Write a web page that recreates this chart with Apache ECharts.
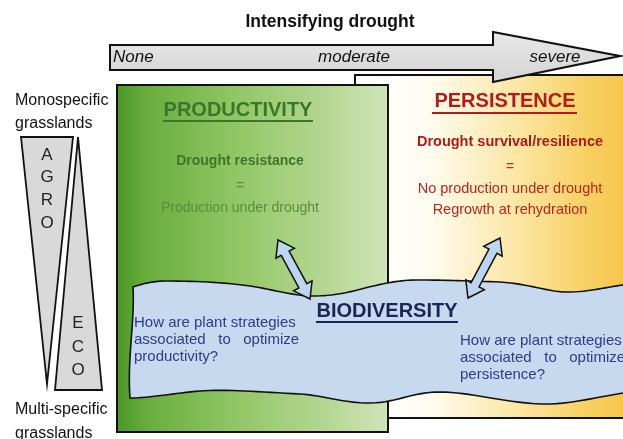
<!DOCTYPE html>
<html>
<head>
<meta charset="utf-8">
<script src="https://cdn.jsdelivr.net/npm/echarts@6/dist/echarts.min.js"></script>
<style>html,body{margin:0;padding:0;background:#fff;}#c{width:623px;height:439px;}</style>
</head>
<body>
<div id="c"></div>
<script>
// ---- content (texts / labels) ----
var headerTitle = 'Intensifying drought';
var droughtLevels = ['None', 'moderate', 'severe'];
var agroLetters = ['A', 'G', 'R', 'O'];
var ecoLetters = ['E', 'C', 'O'];
var topLeftLabel = ['Monospecific', 'grasslands'];
var bottomLeftLabel = ['Multi-specific', 'grasslands'];
var productivityTitle = 'PRODUCTIVITY';
var productivityLines = ['Drought resistance', '=', 'Production under drought'];
var persistenceTitle = 'PERSISTENCE';
var persistenceLines = ['Drought survival/resilience', '=', 'No production under drought', 'Regrowth at rehydration'];
var biodiversityTitle = 'BIODIVERSITY';
var bioLeftLines = ['How are plant strategies', 'associated   to   optimize', 'productivity?'];
var bioRightLines = ['How are plant strategies', 'associated   to   optimize', 'persistence?'];

var FF = '"Liberation Sans", Arial, sans-serif';
var els = [];
function txt(t, x, y, font, fill, align) {
  els.push({type: 'text', silent: true, style: {text: t, x: x, y: y, font: font, fill: fill,
    textAlign: align || 'center', align: align || 'center', textVerticalAlign: 'middle', verticalAlign: 'middle'}});
}
function line(x1, y1, x2, y2, color, w) {
  els.push({type: 'line', silent: true, shape: {x1: x1, y1: y1, x2: x2, y2: y2}, style: {stroke: color, lineWidth: w}});
}
function dblArrow(p1, p2) {
  var dx = p2[0] - p1[0], dy = p2[1] - p1[1], len = Math.sqrt(dx * dx + dy * dy);
  var ux = dx / len, uy = dy / len, nx = -uy, ny = ux;
  var s = 4.5, h = 10.5, L = 15;
  function P(base, a, b) { return [base[0] + ux * a + nx * b, base[1] + uy * a + ny * b]; }
  var pts = [p1, P(p1, L, h), P(p1, L, s), P(p2, -L, s), P(p2, -L, h), p2, P(p2, -L, -h), P(p2, -L, -s), P(p1, L, -s), P(p1, L, -h)];
  els.push({type: 'polygon', silent: true, shape: {points: pts}, style: {fill: '#bdd6ef', stroke: '#111', lineWidth: 1.5, lineJoin: 'miter'}});
}
// sample a chain of cubic beziers into polygon points
function bezierChain(start, segs) {
  var pts = [start], cur = start;
  segs.forEach(function (s) {
    var c1 = s[0], c2 = s[1], e = s[2];
    for (var k = 1; k <= 16; k++) {
      var t = k / 16, m = 1 - t;
      pts.push([m*m*m*cur[0] + 3*m*m*t*c1[0] + 3*m*t*t*c2[0] + t*t*t*e[0],
                m*m*m*cur[1] + 3*m*m*t*c1[1] + 3*m*t*t*c2[1] + t*t*t*e[1]]);
    }
    cur = e;
  });
  return pts;
}

// header
txt(headerTitle, 330, 22, 'bold 17.5px ' + FF, '#111');

// persistence box (behind)
els.push({type: 'rect', silent: true, shape: {x: 355, y: 75, width: 290, height: 343},
  style: {fill: {type: 'linear', x: 0, y: 0, x2: 1, y2: 0, colorStops: [
    {offset: 0, color: '#ffffff'}, {offset: 0.25, color: '#fffcf2'}, {offset: 0.55, color: '#fbe7a6'},
    {offset: 0.8, color: '#f8d062'}, {offset: 1, color: '#f5bf3e'}]}, stroke: '#111', lineWidth: 2}});

// drought arrow
els.push({type: 'polygon', silent: true,
  shape: {points: [[110, 45], [493, 45], [493, 32], [620, 56], [493, 82], [493, 70], [110, 70]]},
  style: {fill: {type: 'linear', x: 0, y: 0, x2: 0, y2: 1, colorStops: [{offset: 0, color: '#e8e8e8'}, {offset: 1, color: '#d4d4d4'}]},
    stroke: '#111', lineWidth: 2}});
txt(droughtLevels[0], 113, 57, 'italic 17px ' + FF, '#111', 'left');
txt(droughtLevels[1], 354, 57, 'italic 17px ' + FF, '#111');
txt(droughtLevels[2], 555, 57, 'italic 17px ' + FF, '#111');

// green productivity box
els.push({type: 'rect', silent: true, shape: {x: 117, y: 85, width: 271, height: 347},
  style: {fill: {type: 'linear', x: 0, y: 0, x2: 1, y2: 0, colorStops: [
    {offset: 0, color: '#4a9828'}, {offset: 0.12, color: '#6aae3e'}, {offset: 0.45, color: '#93c766'},
    {offset: 0.75, color: '#b2d690'}, {offset: 1, color: '#d0e4b8'}]},
    stroke: '#111', lineWidth: 2}});

txt(productivityTitle, 238, 110, 'bold 20px ' + FF, '#3a772b');
line(163, 121, 313, 121, '#3a772b', 2);
txt(productivityLines[0], 240, 161, 'bold 14px ' + FF, '#40742a');
txt(productivityLines[1], 240, 186, '14px ' + FF, '#5a8e3c');
txt(productivityLines[2], 240, 208, '14px ' + FF, '#5a8e3c');

txt(persistenceTitle, 505, 101, 'bold 20px ' + FF, '#b01c1c');
line(432, 113, 577, 113, '#b01c1c', 2);
txt(persistenceLines[0], 510, 142, 'bold 14.5px ' + FF, '#ac1c1c');
txt(persistenceLines[1], 510, 167, '14px ' + FF, '#c02a20');
txt(persistenceLines[2], 510, 189, '14.5px ' + FF, '#b8261e');
txt(persistenceLines[3], 510, 210, '14.5px ' + FF, '#b8261e');

// wavy biodiversity banner
var wavePts = bezierChain([133, 287], [
  [[145, 283], [155, 281], [165, 281]],
  [[200, 281], [230, 283], [250, 286]],
  [[275, 290], [295, 296], [312, 296]],
  [[335, 296], [350, 292], [365, 288]],
  [[385, 283], [400, 280], [418, 280]],
  [[445, 280], [470, 281], [500, 282]],
  [[530, 284], [548, 292], [567, 292]],
  [[590, 292], [605, 287], [630, 284]]
]).concat(bezierChain([630, 392], [
  [[600, 396], [570, 405], [540, 404]],
  [[500, 402], [470, 392], [440, 392]],
  [[410, 392], [395, 404], [365, 403]],
  [[340, 402], [320, 395], [300, 394]],
  [[260, 392], [225, 389], [200, 391]],
  [[175, 393], [150, 398], [130, 398]],
  [[127, 360], [135, 320], [133, 287]]
]));
els.push({type: 'polygon', silent: true, shape: {points: wavePts},
  style: {fill: '#c7d9ef', stroke: '#111', lineWidth: 1.6}});

txt(biodiversityTitle, 387, 311, 'bold 20px ' + FF, '#1b2655');
line(316, 322, 458, 322, '#1b2655', 2);
bioLeftLines.forEach(function (t, i) { txt(t, 134, 323 + i * 17, '15px ' + FF, '#2c3d85', 'left'); });
bioRightLines.forEach(function (t, i) { txt(t, 460, 341 + i * 17, '15px ' + FF, '#2c3d85', 'left'); });

dblArrow([278, 240], [310, 299]);
dblArrow([500, 238], [468, 298]);

// left triangles
els.push({type: 'polygon', silent: true, shape: {points: [[21, 137], [73, 137], [47, 384]]},
  style: {fill: '#d9d9d9', stroke: '#111', lineWidth: 1.8}});
els.push({type: 'polygon', silent: true, shape: {points: [[78, 137], [102, 390], [55, 390]]},
  style: {fill: '#d9d9d9', stroke: '#111', lineWidth: 1.8}});
var agroY = [155, 177, 200, 223];
agroLetters.forEach(function (t, i) { txt(t, 47, agroY[i], '17px ' + FF, '#222'); });
var ecoY = [323, 347, 370];
ecoLetters.forEach(function (t, i) { txt(t, 78, ecoY[i], '17px ' + FF, '#222'); });

txt(topLeftLabel[0], 15, 101, '16px ' + FF, '#111', 'left');
txt(topLeftLabel[1], 15, 124, '16px ' + FF, '#111', 'left');
txt(bottomLeftLabel[0], 15, 410, '16px ' + FF, '#111', 'left');
txt(bottomLeftLabel[1], 15, 434, '16px ' + FF, '#111', 'left');

var chart = echarts.init(document.getElementById('c'), null, {renderer: 'canvas'});
chart.setOption({backgroundColor: '#ffffff', animation: false, graphic: {elements: els}});
</script>
</body>
</html>
